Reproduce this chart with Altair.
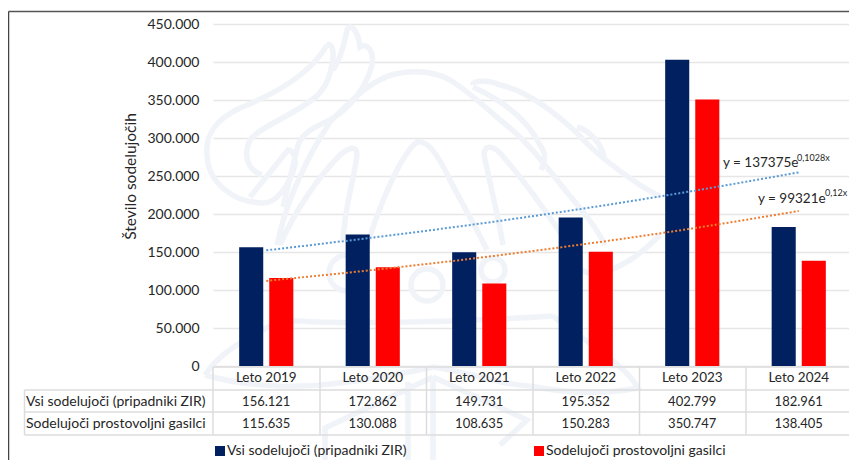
import altair as alt
import pandas as pd

years = ["Leto 2019", "Leto 2020", "Leto 2021", "Leto 2022", "Leto 2023", "Leto 2024"]
series_a = "Vsi sodelujoči (pripadniki ZIR)"
series_b = "Sodelujoči prostovoljni gasilci"
values_a = [156121, 172862, 149731, 195352, 402799, 182961]
values_b = [115635, 130088, 108635, 150283, 350747, 138405]
labels_a = ["156.121", "172.862", "149.731", "195.352", "402.799", "182.961"]
labels_b = ["115.635", "130.088", "108.635", "150.283", "350.747", "138.405"]
trend_a = [152200, 169000, 187200, 207600, 230200, 254800]
trend_b = [112000, 126300, 142400, 160600, 181000, 204000]

FONT = "Lato"
TXT = "#262626"
LINE = "#dcdcdc"
OX, OY = 213, 24  # image position of the plot origin

bars_df = pd.DataFrame(
    {"year": years * 2, "series": [series_a] * 6 + [series_b] * 6, "value": values_a + values_b}
)
x_enc = alt.X("year:N", sort=years, axis=None, scale=alt.Scale(domain=years, paddingInner=0, paddingOuter=0))
y_scale = alt.Scale(domain=[0, 450000], nice=False)
y_axis = alt.Axis(
    title="Število sodelujočih",
    titleFont=FONT,
    titleFontSize=15.5,
    titleFontWeight="normal",
    titleColor=TXT,
    titleX=138 - OX,
    titleY=176 - OY,
    labelFont=FONT,
    labelFontSize=14,
    labelColor=TXT,
    labelPadding=14,
    labelOverlap=False,
    labelFlush=False,
    tickSize=0,
    domain=False,
    grid=True,
    gridColor="#e6e6e6",
    gridWidth=1.5,
    values=list(range(0, 450001, 50000)),
    labelExpr="replace(format(datum.value, ','), ',', '.')",
)

one = alt.Data(values=[{}])


def ix(v):
    return alt.value(v - OX)


def iy(v):
    return alt.value(v - OY)


def rule(x0, y0, x1, y1, color=LINE, w=1.5):
    enc = {"x": ix(x0), "y": iy(y0)}
    if x1 != x0:
        enc["x2"] = ix(x1)
    if y1 != y0:
        enc["y2"] = iy(y1)
    return alt.Chart(one).mark_rule(color=color, strokeWidth=w).encode(**enc)


def label(text, x, y, size=13, align="left"):
    return (
        alt.Chart(one)
        .mark_text(text=text, font=FONT, fontSize=size, color=TXT, align=align, baseline="middle")
        .encode(x=ix(x), y=iy(y))
    )


watermark_paths = [
    "M327 45C312 72 280 92 240 108C215 120 205 135 207 155C208 182 232 202 262 203C276 204 290 185 295 165C296 155 292 150 288 150L250 197",
    "M327 45C335 42 334 60 330 73C327 85 322 90 317 96C290 118 262 125 250 140C243 155 247 170 262 175",
    "M333 70C340 60 345 40 347 30C350 22 358 30 360 47C368 42 374 52 372 65C365 90 350 108 330 120C312 128 303 133 298 145L283 207",
    "M277 245C285 205 305 160 330 122C350 102 370 80 395 74C415 70 435 72 450 80C470 92 490 112 510 128C530 145 545 165 565 190C580 208 595 225 605 245",
    "M473 85C472 80 490 80 500 85C525 90 550 108 577 133C590 148 610 165 640 185C648 190 655 194 660 196",
    "M473 87C495 97 525 115 540 145C547 155 545 160 541 170",
    "M577 127C590 130 602 145 604 157",
    "M343 240C345 205 355 175 357 155C357 145 350 147 340 155C320 175 295 210 280 245",
    "M367 245C380 205 400 155 417 142C428 140 438 155 450 180C460 200 475 225 487 250",
    "M503 245C498 215 487 170 484 155C484 145 492 145 500 153C515 170 535 195 565 240",
    "M283 320C340 325 460 322 553 316",
    "M205 375C240 385 290 390 340 383C380 378 410 372 433 367C470 372 500 385 530 386",
    "M433 377L325 428L325 468",
    "M433 377L527 420L500 445",
    "M408 468L408 382M433 377L433 468",
    "M443 285A16 16 0 1 1 411 285A16 16 0 1 1 443 285",
    "M505 270A12 12 0 1 1 481 270A12 12 0 1 1 505 270",
    "M365 273A18 18 0 1 1 329 273A18 18 0 1 1 365 273",
    "M283 320C230 345 215 360 205 375",
    "M553 316C590 345 625 365 638 388C600 395 560 392 530 386",
    "M660 235C640 255 625 265 605 272C590 276 580 272 575 262",
]
watermark = alt.Chart(one).mark_point(
    shape=" ".join(watermark_paths), size=4, filled=False, stroke="#f0f3f8", strokeWidth=5.5, opacity=1
).encode(x=alt.value(-OX), y=alt.value(-OY))

bars = (
    alt.Chart(bars_df)
    .mark_bar()
    .encode(
        x=x_enc,
        xOffset=alt.XOffset(
            "series:N",
            sort=[series_a, series_b],
            scale=alt.Scale(domain=[series_a, series_b], paddingInner=0.2, paddingOuter=0.87),
        ),
        y=alt.Y("value:Q", scale=y_scale, axis=y_axis),
        color=alt.Color(
            "series:N",
            scale=alt.Scale(domain=[series_a, series_b], range=["#002060", "#ff0000"]),
            legend=alt.Legend(
                title=None,
                orient="none",
                legendX=0,
                legendY=420,
                columns=2,
                columnPadding=125,
                symbolType="square",
                symbolSize=100,
                symbolStrokeWidth=0,
                labelFont=FONT,
                labelFontSize=14,
                labelColor=TXT,
                labelOffset=0,
                labelLimit=300,
                padding=0,
            ),
        ),
    )
)


def trend(vals, color):
    df = pd.DataFrame({"year": years, "value": vals})
    return (
        alt.Chart(df)
        .mark_line(color=color, strokeWidth=2, strokeDash=[2, 2], interpolate="monotone")
        .encode(x=x_enc, y=alt.Y("value:Q", scale=y_scale, axis=y_axis))
    )


def table_row(texts, y, size=13):
    df = pd.DataFrame({"year": years, "t": texts})
    return (
        alt.Chart(df)
        .mark_text(font=FONT, fontSize=size, color=TXT, align="center", baseline="middle")
        .encode(x=x_enc, y=iy(y), text="t:N")
    )


layers = [watermark]
layers += [bars, trend(trend_a, "#5b9bd5"), trend(trend_b, "#ed7d31")]
for yy in (367, 390, 412, 435):
    layers.append(rule(213 if yy == 367 else 24.5, yy, 852, yy))
layers.append(rule(24.5, 390, 24.5, 435))
for xx in (213, 320, 426.5, 533, 639.5, 746):
    layers.append(rule(xx, 367, xx, 435))
layers += [rule(8.5, 11.5, 852, 11.5, "#555555"), rule(8.5, 11.5, 8.5, 468, "#444444")]
layers += [table_row(years, 378, 13.5), table_row(labels_a, 402), table_row(labels_b, 424)]
layers += [label(series_a, 26, 402, 14), label(series_b, 26, 424, 14)]
layers += [
    label("y = 137375e", 723, 163, 13.5),
    label("0,1028x", 797, 158, 9),
    label("y = 99321e", 758, 199, 13.5),
    label("0,12x", 825, 193, 9),
]

chart = (
    alt.layer(*layers)
    .resolve_scale(y="shared")
    .properties(
        width=639,
        height=342,
        background="white",
        padding={"left": OX - 8, "top": OY - 8, "right": -3, "bottom": 94},
        autosize=alt.AutoSizeParams(type="none"),
    )
    .configure_view(stroke=None)
)

chart.save("out.html", embed_options={"renderer": "svg", "actions": False})
